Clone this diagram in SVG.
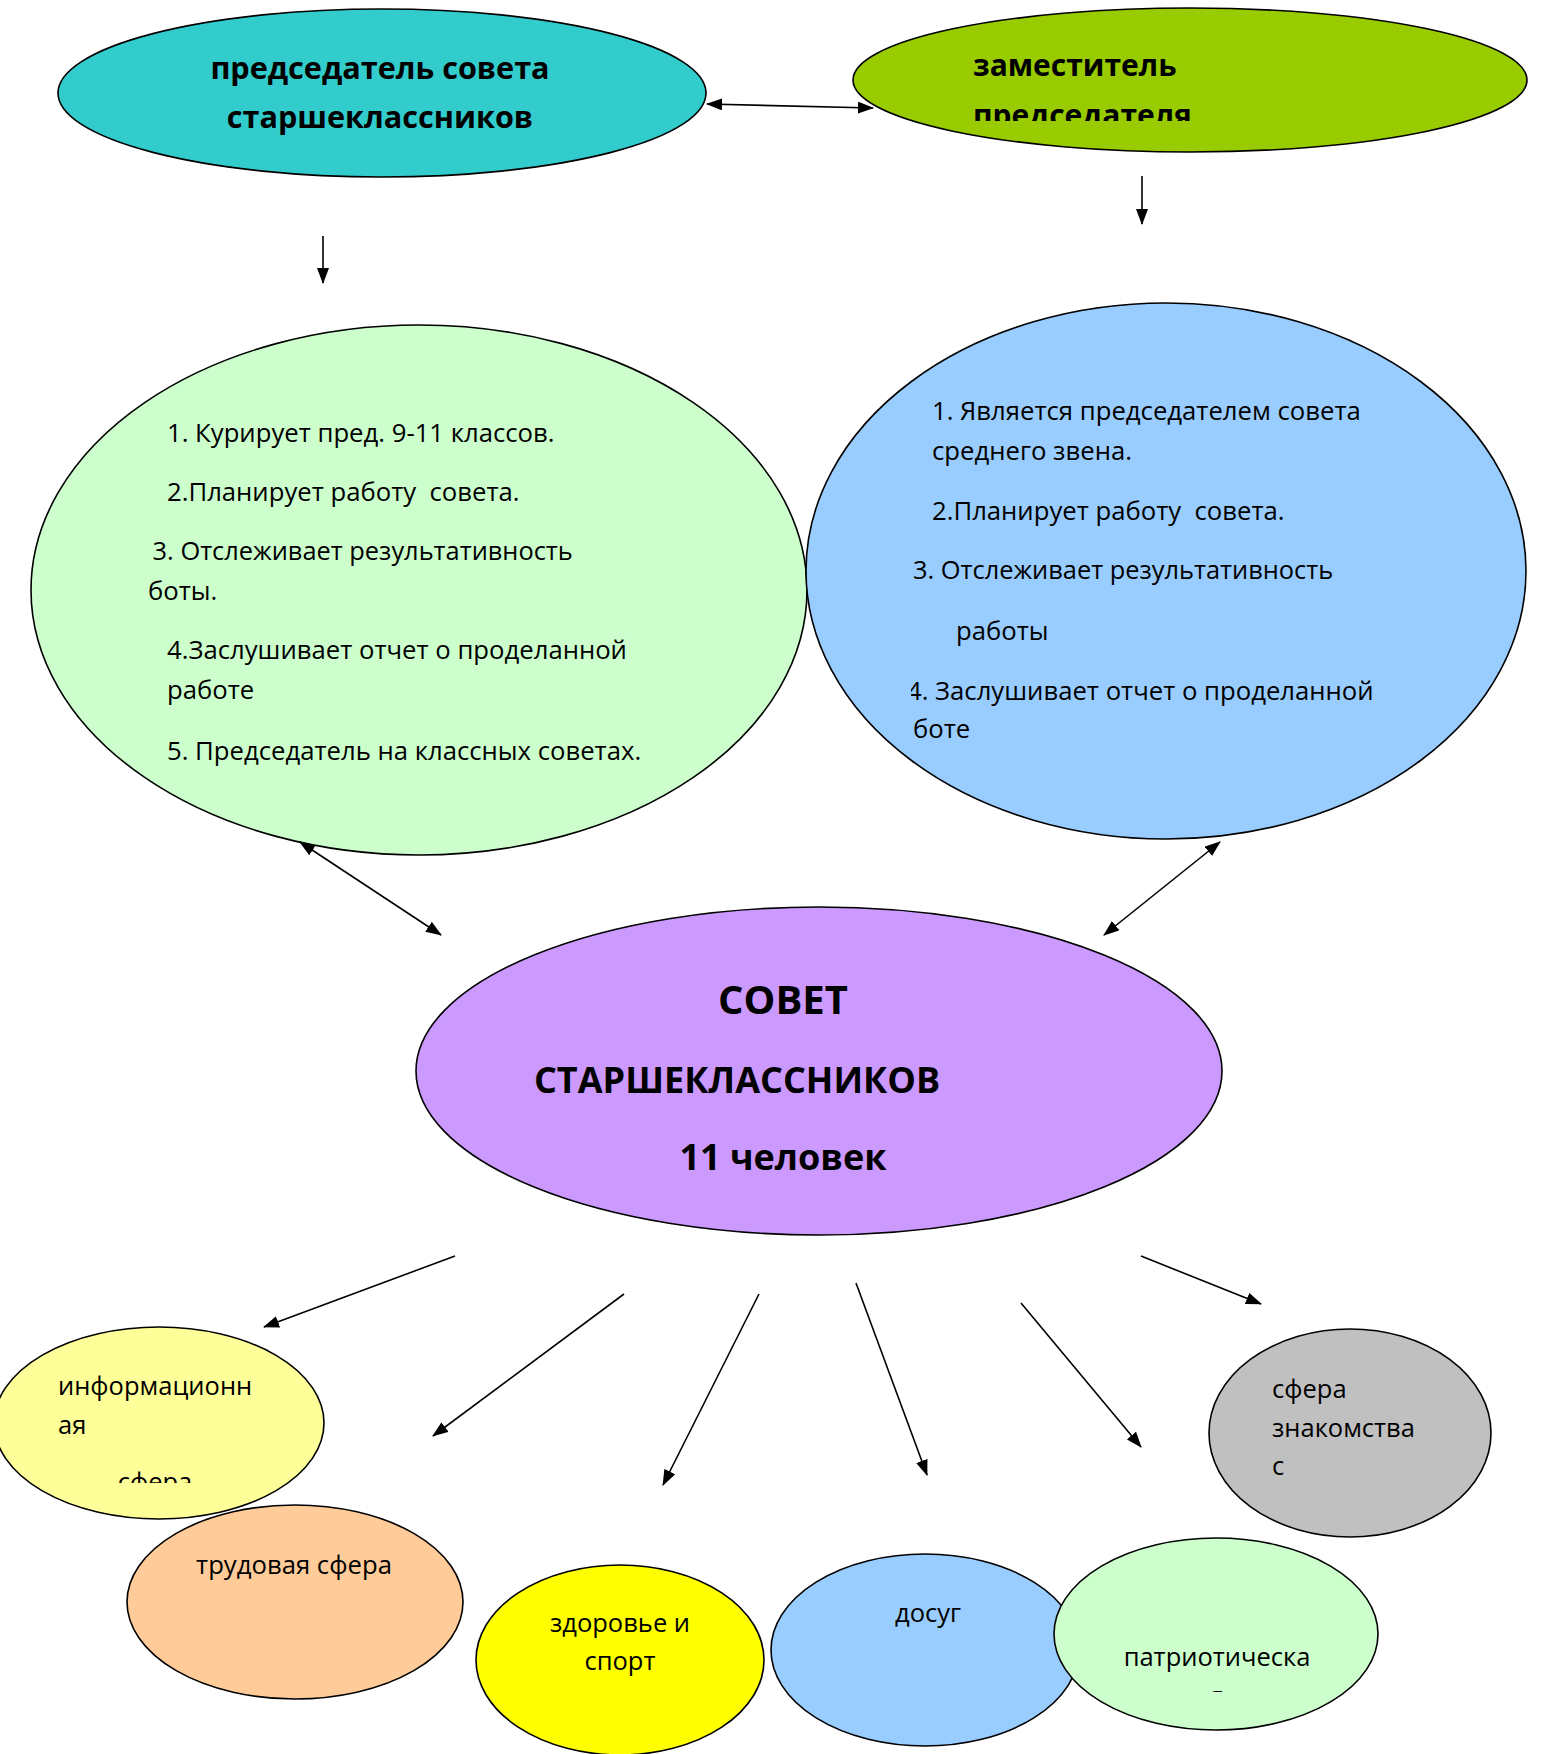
<svg xmlns="http://www.w3.org/2000/svg" width="1541" height="1754" viewBox="0 0 1541 1754">
<style>
.node{stroke:#000;stroke-width:1.6}
.t{font-family:"Open Sans","Noto Sans","Liberation Sans",sans-serif;fill:#000}
.b{font-weight:bold}
.conn line{stroke:#000;stroke-width:1.6;fill:none}
</style>
<defs>
<marker id="ah" markerUnits="userSpaceOnUse" markerWidth="16" markerHeight="12" refX="15" refY="6" orient="auto-start-reverse">
<path d="M0,0 L16,6 L0,12 z" fill="#000"/>
</marker>
<clipPath id="c1"><rect x="850" y="0" width="700" height="121"/></clipPath>
<clipPath id="c2"><rect x="0" y="1300" width="400" height="183"/></clipPath>
<clipPath id="c3"><rect x="1100" y="1688" width="200" height="4"/></clipPath>
<clipPath id="c4"><rect x="911" y="650" width="500" height="60"/></clipPath>
</defs>
<rect width="1541" height="1754" fill="#fff"/>

<g id="chair">
<ellipse class="node" cx="382" cy="93" rx="324" ry="84" fill="#33CCCC"/>
<text class="t b" font-size="30.6" x="380" y="79" text-anchor="middle">председатель совета</text>
<text class="t b" font-size="30.6" x="380" y="128" text-anchor="middle">старшеклассников</text>
</g>

<g id="deputy">
<ellipse class="node" cx="1190" cy="80" rx="337" ry="72" fill="#99CC00"/>
<text class="t b" font-size="30" x="973" y="76">заместитель</text>
<text class="t b" font-size="30" x="973" y="126" clip-path="url(#c1)">председателя</text>
</g>

<g id="chair-duties">
<ellipse class="node" cx="419" cy="590" rx="388" ry="265" fill="#CCFFCC"/>
<g class="t" font-size="25.7">
<text x="167" y="442">1. Курирует пред. 9-11 классов.</text>
<text x="167" y="501" xml:space="preserve">2.Планирует работу  совета.</text>
<text x="146" y="560" xml:space="preserve" font-size="25.4"> 3. Отслеживает результативность</text>
<text x="148" y="600">боты.</text>
<text x="167" y="659">4.Заслушивает отчет о проделанной</text>
<text x="167" y="699">работе</text>
<text x="167" y="760">5. Председатель на классных советах.</text>
</g>
</g>

<g id="deputy-duties">
<ellipse class="node" cx="1166" cy="571" rx="360" ry="268" fill="#99CCFF"/>
<g class="t" font-size="25.7">
<text x="932" y="420">1. Является председателем совета</text>
<text x="932" y="460">среднего звена.</text>
<text x="932" y="520" xml:space="preserve">2.Планирует работу  совета.</text>
<text x="913" y="579" font-size="25.4">3. Отслеживает результативность</text>
<text x="956" y="640">работы</text>
<text x="907" y="700" clip-path="url(#c4)">4. Заслушивает отчет о проделанной</text>
<text x="913" y="738">боте</text>
</g>
</g>

<g id="council">
<ellipse class="node" cx="819" cy="1071" rx="403" ry="164" fill="#CC99FF"/>
<text class="t b" font-size="40" x="783" y="1014" text-anchor="middle">СОВЕТ</text>
<text class="t b" font-size="36" x="737" y="1093" text-anchor="middle">СТАРШЕКЛАССНИКОВ</text>
<text class="t b" font-size="36" x="783" y="1170" text-anchor="middle">11 человек</text>
</g>

<g id="info">
<ellipse class="node" cx="159" cy="1423" rx="165" ry="96" fill="#FFFF99"/>
<text class="t" font-size="25.5" x="58" y="1395">информационн</text>
<text class="t" font-size="25.5" x="58" y="1434">ая</text>
<text class="t" font-size="25.5" x="155" y="1491" text-anchor="middle" clip-path="url(#c2)">сфера</text>
</g>

<g id="labour">
<ellipse class="node" cx="295" cy="1602" rx="168" ry="97" fill="#FFCC99"/>
<text class="t" font-size="25.7" x="294" y="1574" text-anchor="middle">трудовая сфера</text>
</g>

<g id="health">
<ellipse class="node" cx="620" cy="1660" rx="144" ry="95" fill="#FFFF00"/>
<text class="t" font-size="25.5" x="620" y="1632" text-anchor="middle">здоровье и</text>
<text class="t" font-size="25.5" x="620" y="1670" text-anchor="middle">спорт</text>
</g>

<g id="leisure">
<ellipse class="node" cx="925" cy="1650" rx="154" ry="96" fill="#99CCFF"/>
<text class="t" font-size="25.5" x="928" y="1622" text-anchor="middle">досуг</text>
</g>

<g id="patriotic">
<ellipse class="node" cx="1216" cy="1634" rx="162" ry="96" fill="#CCFFCC"/>
<text class="t" font-size="25.5" x="1217" y="1666" text-anchor="middle">патриотическа</text>
<text class="t" font-size="25.5" x="1217" y="1705" text-anchor="middle" clip-path="url(#c3)">я</text>
</g>

<g id="acquaint">
<ellipse class="node" cx="1350" cy="1433" rx="141" ry="104" fill="#C0C0C0"/>
<text class="t" font-size="25.5" x="1272" y="1398">сфера</text>
<text class="t" font-size="25.5" x="1272" y="1437">знакомства</text>
<text class="t" font-size="25.5" x="1272" y="1475">с</text>
</g>

<g id="connectors" class="conn">
<line x1="707" y1="104" x2="873" y2="108" marker-start="url(#ah)" marker-end="url(#ah)"/>
<line x1="323" y1="236" x2="323" y2="283" marker-end="url(#ah)"/>
<line x1="1142" y1="176" x2="1142" y2="224" marker-end="url(#ah)"/>
<line x1="300" y1="842" x2="441" y2="935" marker-start="url(#ah)" marker-end="url(#ah)"/>
<line x1="1220" y1="842" x2="1104" y2="935" marker-start="url(#ah)" marker-end="url(#ah)"/>
<line x1="455" y1="1256" x2="264" y2="1327" marker-end="url(#ah)"/>
<line x1="624" y1="1294" x2="433" y2="1436" marker-end="url(#ah)"/>
<line x1="759" y1="1294" x2="663" y2="1485" marker-end="url(#ah)"/>
<line x1="856" y1="1283" x2="927" y2="1475" marker-end="url(#ah)"/>
<line x1="1021" y1="1303" x2="1141" y2="1447" marker-end="url(#ah)"/>
<line x1="1141" y1="1256" x2="1261" y2="1304" marker-end="url(#ah)"/>
</g>
</svg>
